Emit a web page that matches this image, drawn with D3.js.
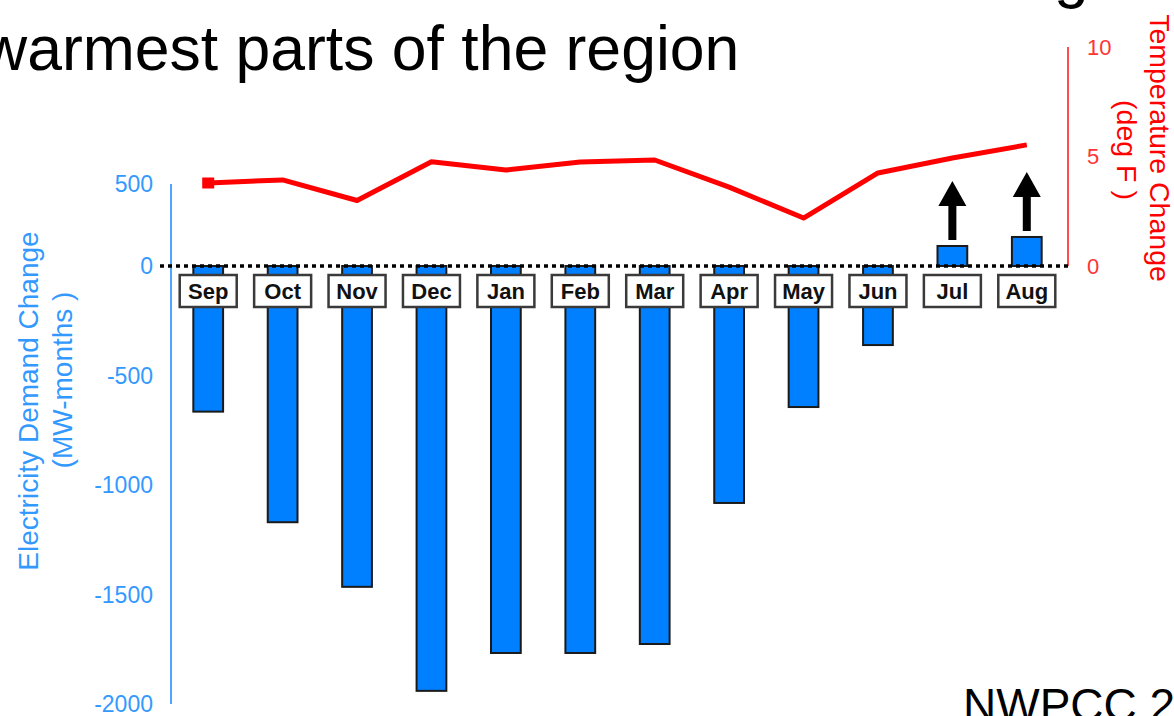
<!DOCTYPE html>
<html>
<head>
<meta charset="utf-8">
<script src="https://cdn.jsdelivr.net/npm/d3@7"></script>
<style>
  html, body { margin: 0; padding: 0; background: #fff; overflow: hidden; }
  svg { display: block; font-family: "Liberation Sans", Arial, Helvetica, sans-serif; }
</style>
</head>
<body>
<svg id="chart" width="1174" height="716"></svg>
<script>
// Monthly change in electricity demand (bars) and temperature (line)
const months = ["Sep", "Oct", "Nov", "Dec", "Jan", "Feb", "Mar", "Apr", "May", "Jun", "Jul", "Aug"];
const demandChange = [-665, -1170, -1465, -1940, -1767, -1767, -1726, -1082, -644, -361, 122, 177];
const tempChange = [3.79, 3.93, 2.99, 4.76, 4.38, 4.75, 4.84, 3.6, 2.19, 4.25, 4.93, 5.53];
const demandTicks = [500, 0, -500, -1000, -1500, -2000];
const tempTicks = [0, 5, 10];
const risingMonths = ["Jul", "Aug"];
const titleLines = ["The effects of warmer summers are largest in the", "warmest parts of the region"];
const sourceNote = "NWPCC 2005";

const svg = d3.select("#chart");
const BLUE = "#3399ff", RED = "#ff0000";

const x = d3.scaleBand().domain(months).range([171, 1064]).paddingInner(0.6).paddingOuter(0.3);
const y = d3.scaleLinear().domain([-2000, 0, 500]).range([704, 266, 184]);
const yT = d3.scaleLinear().domain([0, 10]).range([266, 47]);

// Title (two lines, running off the top and left edges)
svg.selectAll("text.title").data(titleLines).join("text")
  .attr("class", "title")
  .attr("x", -18).attr("y", (d, i) => -4 + i * 74)
  .attr("font-size", 62.5).attr("fill", "#000")
  .text(d => d);

// Left axis: demand
svg.append("line").attr("x1", 171).attr("x2", 171)
  .attr("y1", y(500)).attr("y2", y(-2000))
  .attr("stroke", "#4da6ff").attr("stroke-width", 2);
svg.selectAll("text.ltick").data(demandTicks).join("text")
  .attr("class", "ltick")
  .attr("x", 153).attr("y", d => y(d)).attr("dy", "0.36em")
  .attr("text-anchor", "end").attr("font-size", 23).attr("fill", BLUE)
  .text(d => d);
svg.append("text").attr("transform", "translate(28,401) rotate(-90)")
  .attr("text-anchor", "middle").attr("dominant-baseline", "central")
  .attr("font-size", 28).attr("fill", BLUE).text("Electricity Demand Change");
svg.append("text").attr("transform", "translate(62,380) rotate(-90)")
  .attr("text-anchor", "middle").attr("dominant-baseline", "central")
  .attr("font-size", 28).attr("fill", BLUE).text("(MW-months )");

// Right axis: temperature
svg.append("line").attr("x1", 1068).attr("x2", 1068)
  .attr("y1", yT(10)).attr("y2", yT(0))
  .attr("stroke", "#ff4d4d").attr("stroke-width", 2);
svg.selectAll("text.rtick").data(tempTicks).join("text")
  .attr("class", "rtick")
  .attr("x", 1087).attr("y", d => yT(d)).attr("dy", "0.36em")
  .attr("font-size", 22).attr("fill", "#ff3333")
  .text(d => d);
svg.append("text").attr("transform", "translate(1160,148) rotate(90)")
  .attr("text-anchor", "middle").attr("dominant-baseline", "central")
  .attr("font-size", 28.5).attr("fill", RED).text("Temperature Change");
svg.append("text").attr("transform", "translate(1127,150) rotate(90)")
  .attr("text-anchor", "middle").attr("dominant-baseline", "central")
  .attr("font-size", 28.5).attr("fill", RED).text("(deg F )");

// Demand bars
const data = months.map((m, i) => ({ m, v: demandChange[i], t: tempChange[i] }));
svg.selectAll("rect.bar").data(data).join("rect")
  .attr("class", "bar")
  .attr("x", d => x(d.m)).attr("width", x.bandwidth())
  .attr("y", d => Math.min(y(d.v), y(0)))
  .attr("height", d => Math.abs(y(d.v) - y(0)))
  .attr("fill", "#0080ff").attr("stroke", "#1a1a1a").attr("stroke-width", 2);

// Zero line
svg.append("line").attr("x1", 160).attr("x2", 1068)
  .attr("y1", y(0)).attr("y2", y(0))
  .attr("stroke", "#000").attr("stroke-width", 3.5).attr("stroke-dasharray", "4,4");

// Month label boxes
const cx = m => x(m) + x.bandwidth() / 2;
const labels = svg.selectAll("g.mlabel").data(months).join("g")
  .attr("class", "mlabel")
  .attr("transform", m => `translate(${cx(m)},${y(0) + 9})`);
labels.append("rect").attr("x", -28.5).attr("y", 0).attr("width", 57).attr("height", 32)
  .attr("fill", "#fff").attr("stroke", "#3a3a3a").attr("stroke-width", 2.5);
labels.append("text").attr("y", 24).attr("text-anchor", "middle")
  .attr("font-size", 22).attr("font-weight", "bold").attr("fill", "#111")
  .text(m => m);

// Upward arrows above the summer increases
const arrow = d3.path;
svg.selectAll("path.arrow").data(data.filter(d => risingMonths.includes(d.m))).join("path")
  .attr("class", "arrow")
  .attr("d", d => {
    const c = cx(d.m), bottom = y(d.v) - 6, tip = bottom - 59, base = tip + 25;
    const p = arrow();
    p.moveTo(c - 4, bottom); p.lineTo(c - 4, base); p.lineTo(c - 14, base);
    p.lineTo(c, tip); p.lineTo(c + 14, base); p.lineTo(c + 4, base);
    p.lineTo(c + 4, bottom); p.closePath();
    return p.toString();
  })
  .attr("fill", "#000");

// Temperature line
svg.append("path").datum(data)
  .attr("d", d3.line().x(d => cx(d.m)).y(d => yT(d.t)))
  .attr("fill", "none").attr("stroke", RED).attr("stroke-width", 5)
  .attr("stroke-linejoin", "round");
svg.append("rect")
  .attr("x", cx(data[0].m) - 6).attr("y", yT(data[0].t) - 5.5)
  .attr("width", 12).attr("height", 11).attr("fill", RED);

// Source note
svg.append("text").attr("x", 963).attr("y", 721)
  .attr("font-size", 46).attr("fill", "#000").text(sourceNote);
</script>
</body>
</html>
